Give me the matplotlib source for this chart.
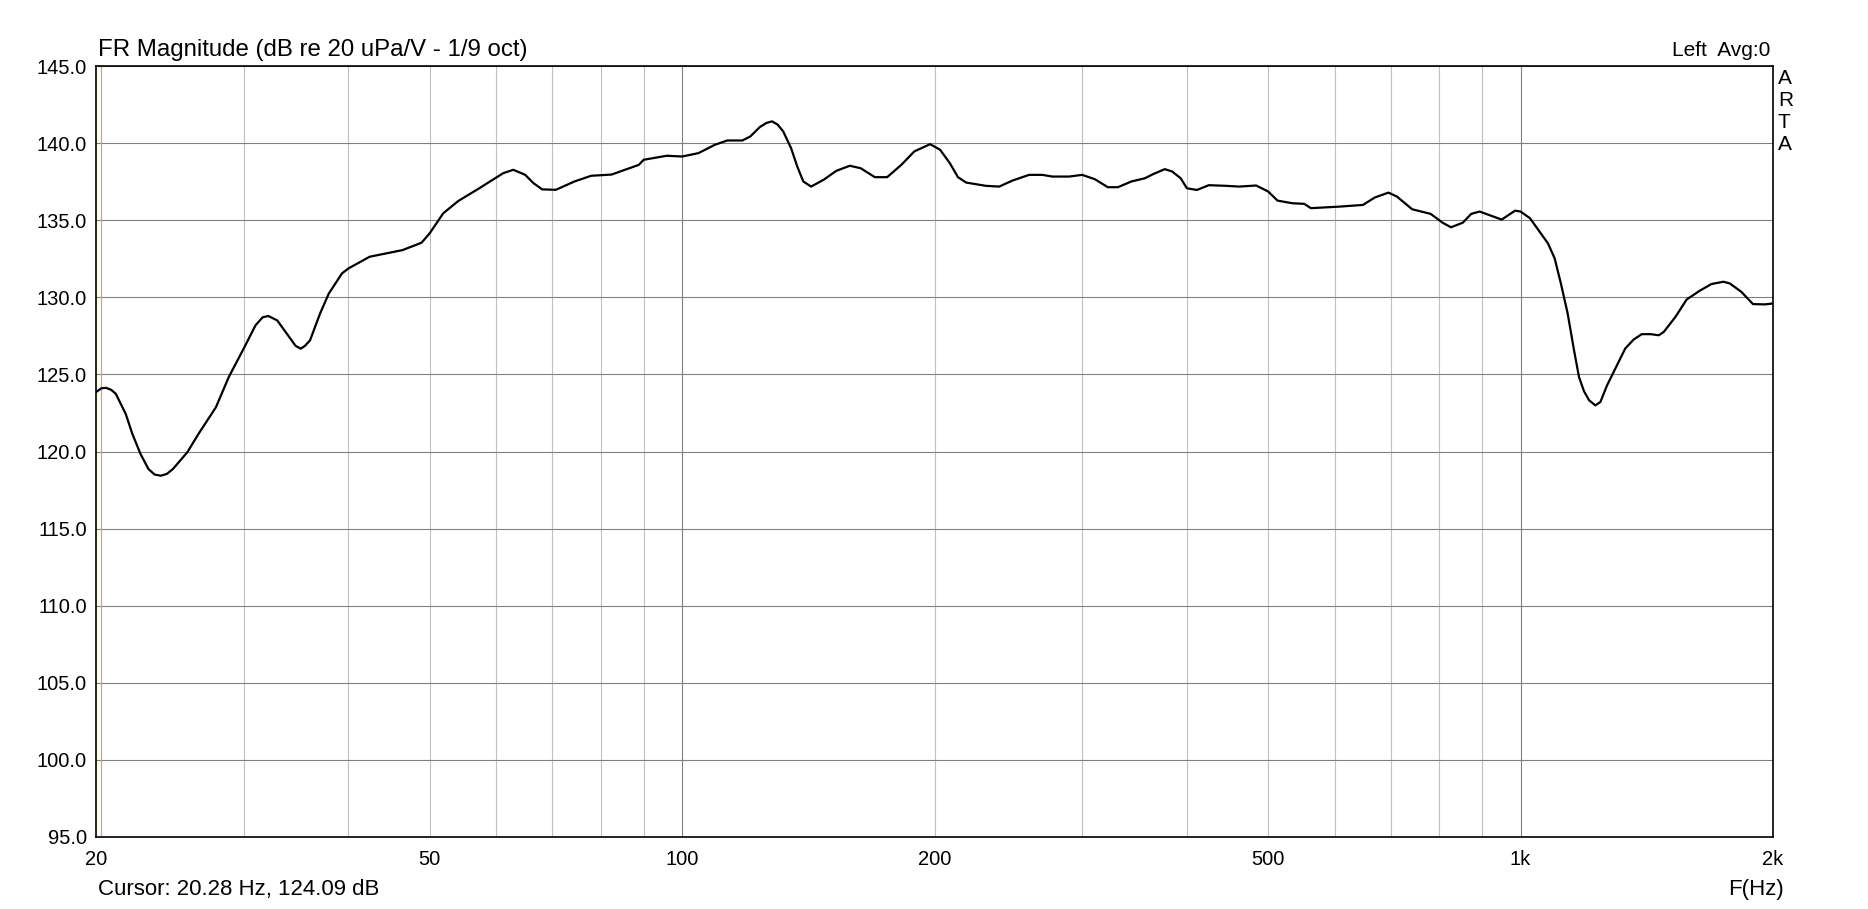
import matplotlib
matplotlib.use("Agg")
import matplotlib.pyplot as plt
from matplotlib.ticker import FixedLocator, NullFormatter, NullLocator

# ---- data ----
freq_hz = [20.0, 20.3, 20.56, 20.85, 21.12, 21.7, 22.1, 22.6, 23.1, 23.5, 23.9, 24.3, 24.7, 25.7,
           26.5, 27.8, 28.8, 30.0, 31.0, 31.6, 32.1, 32.9, 34.0, 34.6, 35.1, 35.5, 36.0, 37.0,
           37.9, 39.3, 40.0, 42.4, 44.8, 46.4, 48.9, 50.0, 51.9, 54.1, 57.3, 59.0, 61.2, 62.9,
           65.0, 66.5, 68.1, 70.7, 74.4, 77.9, 82.4, 85.5, 88.8, 90.0, 95.9, 100.0, 104.6,
           109.4, 113.2, 118.0, 120.6, 123.8, 126.0, 128.0, 130.0, 132.0, 134.9, 137.2, 139.5,
           142.5, 147.5, 152.7, 158.5, 163.3, 169.8, 175.6, 182.6, 189.2, 197.6, 203.1, 208.6,
           213.3, 218.2, 230.2, 238.9, 247.7, 259.3, 268.9, 276.4, 289.5, 300.0, 310.6, 321.9,
           331.0, 343.4, 356.4, 365.0, 376.4, 384.1, 393.2, 400.0, 411.1, 424.8, 445.0, 461.8,
           483.8, 500.0, 513.0, 534.2, 552.0, 562.3, 580.6, 608.0, 648.6, 670.0, 695.7, 712.2,
           742.4, 781.2, 807.1, 826.0, 853.3, 873.2, 893.6, 923.4, 949.5, 985.0, 1000.0,
           1026.0, 1050.0, 1078.0, 1098.0, 1117.0, 1138.0, 1158.0, 1174.0, 1190.0, 1207.0,
           1228.0, 1245.0, 1268.0, 1297.0, 1333.0, 1364.0, 1395.0, 1428.0, 1462.0, 1482.0,
           1530.0, 1578.0, 1636.0, 1689.0, 1745.0, 1776.0, 1833.0, 1893.0, 1956.0, 2000.0]
spl_db = [123.85, 124.1, 124.13, 124.0, 123.74, 122.44, 121.14, 119.84, 118.86, 118.5, 118.43,
          118.55, 118.86, 119.95, 121.14, 122.87, 124.83, 126.67, 128.19, 128.7, 128.79, 128.5,
          127.43, 126.85, 126.67, 126.85, 127.21, 128.94, 130.24, 131.55, 131.87, 132.63, 132.89,
          133.06, 133.54, 134.15, 135.45, 136.25, 137.07, 137.51, 138.05, 138.27, 137.94, 137.4,
          137.0, 136.97, 137.51, 137.88, 137.96, 138.27, 138.59, 138.92, 139.18, 139.13, 139.35,
          139.89, 140.17, 140.17, 140.43, 141.04, 141.3, 141.41, 141.2, 140.76, 139.67, 138.48,
          137.51, 137.18, 137.62, 138.2, 138.53, 138.37, 137.79, 137.79, 138.59, 139.46, 139.93,
          139.57, 138.7, 137.79, 137.44, 137.23, 137.18, 137.57, 137.94, 137.94, 137.83, 137.83,
          137.94, 137.66, 137.14, 137.14, 137.51, 137.72, 138.0, 138.31, 138.16, 137.72, 137.07,
          136.96, 137.27, 137.23, 137.18, 137.25, 136.86, 136.27, 136.1, 136.06, 135.78, 135.82,
          135.88, 135.99, 136.47, 136.79, 136.53, 135.71, 135.41, 134.84, 134.54, 134.84, 135.41,
          135.56, 135.28, 135.04, 135.62, 135.56, 135.13, 134.37, 133.5, 132.53, 130.9, 128.95,
          126.57, 124.83, 123.92, 123.32, 122.99, 123.21, 124.29, 125.37, 126.68, 127.26, 127.61,
          127.61, 127.54, 127.76, 128.73, 129.86, 130.43, 130.86, 131.01, 130.9, 130.36, 129.56,
          129.54, 129.6]

x_tick_values = [20, 50, 100, 200, 500, 1000, 2000]
x_tick_labels = ["20", "50", "100", "200", "500", "1k", "2k"]
x_minor_grid = [30, 40, 50, 60, 70, 80, 90, 200, 300, 400, 500, 600, 700, 800, 900]
x_major_grid = [100, 1000]
y_ticks = [95.0, 100.0, 105.0, 110.0, 115.0, 120.0, 125.0, 130.0, 135.0, 140.0, 145.0]
cursor_freq = 20.28
cursor_db = 124.09

title_text = "FR Magnitude (dB re 20 uPa/V - 1/9 oct)"
right_title = "Left  Avg:0"
cursor_text = f"Cursor: {cursor_freq:.2f} Hz, {cursor_db:.2f} dB"
xlabel_text = "F(Hz)"
brand_letters = ["A", "R", "T", "A"]

# ---- figure ----
W, H = 1868, 909
plt.rcParams["font.family"] = ["Liberation Sans", "DejaVu Sans"]
fig = plt.figure(figsize=(W / 100, H / 100), dpi=100)
L, R, T, B = 96, 1773, 66, 837
ax = fig.add_axes([L / W, 1 - B / H, (R - L) / W, (B - T) / H])

ax.set_xscale("log")
ax.set_xlim(20, 2000)
ax.set_ylim(95, 145)

# grid lines
for f in x_minor_grid:
    ax.axvline(f, color="#c0c0c0", lw=0.8, zorder=1)
for f in x_major_grid:
    ax.axvline(f, color="#808080", lw=0.8, zorder=1)
for yv in y_ticks:
    ax.axhline(yv, color="#808080", lw=0.8, zorder=1)

# cursor line
ax.axvline(cursor_freq, color="#bebe00", lw=0.8, zorder=2)

# curve
ax.plot(freq_hz, spl_db, color="black", lw=1.6, zorder=3,
        solid_joinstyle="round", solid_capstyle="round")

# ticks
ax.xaxis.set_major_locator(FixedLocator(x_tick_values))
ax.set_xticklabels(x_tick_labels)
ax.xaxis.set_minor_locator(NullLocator())
ax.xaxis.set_minor_formatter(NullFormatter())
ax.set_yticks(y_ticks)
ax.set_yticklabels([f"{v:.1f}" for v in y_ticks])
ax.tick_params(axis="both", length=0, labelsize=14.5, colors="black")
ax.tick_params(axis="x", pad=9.5)
ax.tick_params(axis="y", pad=6.5)

for s in ax.spines.values():
    s.set_color("black")
    s.set_linewidth(1.2)
    s.set_zorder(5)

# texts
fig.text(98 / W, 1 - 56 / H, title_text, fontsize=17.3, ha="left", va="baseline")
fig.text(1770 / W, 1 - 56 / H, right_title, fontsize=15, ha="right", va="baseline")
for i, ch in enumerate(brand_letters):
    fig.text(1778 / W, 1 - (78 + i * 22) / H, ch, fontsize=15, ha="left", va="center")
fig.text(98 / W, 1 - 889 / H, cursor_text, fontsize=16, ha="left", va="center")
fig.text(1784 / W, 1 - 889 / H, xlabel_text, fontsize=16, ha="right", va="center")

fig.savefig("out.png", dpi=100, facecolor="white")
